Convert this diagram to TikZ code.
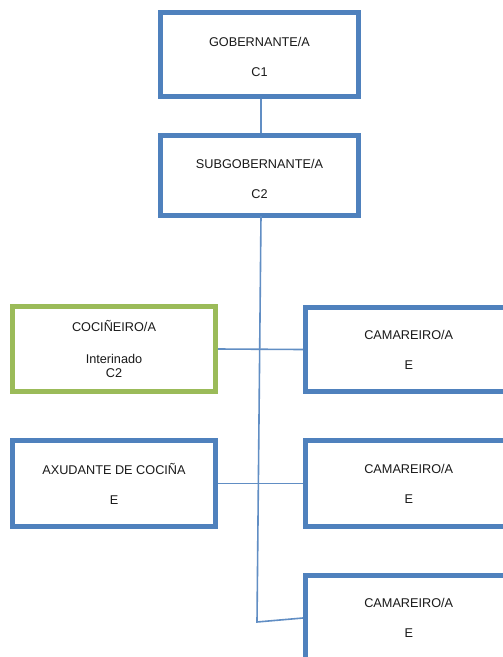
\documentclass[tikz,border=0pt]{standalone}
\usepackage{fontspec}
\setmainfont{Liberation Sans}
\definecolor{boxblue}{HTML}{4F81BD}
\definecolor{boxgreen}{HTML}{9BBB59}
\definecolor{txt}{HTML}{1A1A1A}
\begin{document}
\begin{tikzpicture}[x=1pt,y=-1pt,
  orgbox/.style={draw=boxblue,line width=5pt,fill=white,rectangle,inner sep=0pt,
    align=center,text=txt,font=\fontsize{12.7}{15}\selectfont},
  greenbox/.style={orgbox,draw=boxgreen},
  link/.style={draw=boxblue!90,line width=1.6pt}]
\useasboundingbox (0,0) rectangle (503,657);
\clip (0,0) rectangle (503,657);
\fill[white] (0,0) rectangle (503,657);
\coordinate (top) at (261,216);
\coordinate (bend) at (257,622);
\node[orgbox,minimum width=198pt,minimum height=84pt] (gob) at (259.5,54.5) {\rule{0pt}{15pt}GOBERNANTE/A\\[15pt]C1};
\node[orgbox,minimum width=198pt,minimum height=80pt] (sub) at (259.5,175.5) {\rule{0pt}{16pt}SUBGOBERNANTE/A\\[15pt]C2};
\node[greenbox,minimum width=203pt,minimum height=85pt] (coc) at (114,349) {COCIÑEIRO/A\\[17pt]Interinado\\[-1pt]C2};
\node[orgbox,minimum width=206.5pt,minimum height=84pt] (cam1) at (408.75,349.5) {CAMAREIRO/A\\[15pt]E};
\node[orgbox,minimum width=203pt,minimum height=86pt] (axu) at (114,483.5) {AXUDANTE DE COCIÑA\\[15pt]E};
\node[orgbox,minimum width=206.5pt,minimum height=86pt] (cam2) at (408.75,483.5) {CAMAREIRO/A\\[15pt]E};
\node[orgbox,minimum width=206.5pt,minimum height=85pt] (cam3) at (408.75,618) {CAMAREIRO/A\\[15pt]E};
\draw[link] (gob.south -| top) -- (sub.north -| top);
\draw[link] (top) -- (bend) -- (cam3.west);
\draw[link] (coc.east) -- (cam1.west);
\draw[link] (axu.east) -- (cam2.west);
\end{tikzpicture}
\end{document}
